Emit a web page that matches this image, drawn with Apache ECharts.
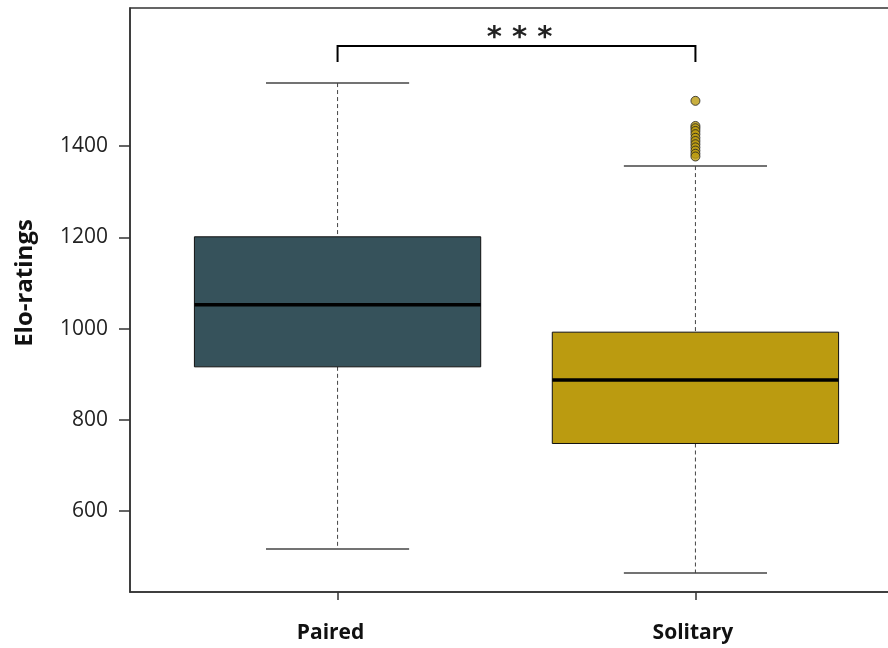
<!DOCTYPE html>
<html>
<head>
<meta charset="utf-8">
<script src="https://cdn.jsdelivr.net/npm/echarts@6/dist/echarts.min.js"></script>
<style>
html,body{margin:0;padding:0;background:#fff;}
#main{width:888px;height:648px;}
</style>
</head>
<body>
<div id="main"></div>
<script>
// ---- data ----
const categories = ['Paired', 'Solitary'];
const categoryPos = [1, 2];
const lowerWhisker = [517, 464];
const q1 = [916, 748];
const median = [1052, 887];
const q3 = [1201, 992];
const upperWhisker = [1538, 1356];
const boxColors = ['#36525B', '#BB9B10'];
const solitaryOutliers = [1499, 1444, 1439, 1433, 1426, 1418, 1411, 1404, 1397, 1390, 1383, 1377];
const yTicks = [600, 800, 1000, 1200, 1400];
const significance = '* * *';
const bracketTop = 1619;
const bracketFoot = 1584;

const boxData = categoryPos.map((x, i) => [x, lowerWhisker[i], q1[i], median[i], q3[i], upperWhisker[i], i]);
const outlierData = solitaryOutliers.map(v => [2, v]);

const chart = echarts.init(document.getElementById('main'));
const FONT = 'Open Sans';

function renderBox(params, api) {
  const x = api.value(0);
  const lo = api.value(1), a = api.value(2), m = api.value(3), b = api.value(4), hi = api.value(5);
  const idx = api.value(6);
  const hw = 0.4, cw = 0.2;
  const pTL = api.coord([x - hw, b]);
  const pBR = api.coord([x + hw, a]);
  const pMedL = api.coord([x - hw, m]);
  const pMedR = api.coord([x + hw, m]);
  const pHi = api.coord([x, hi]);
  const pLo = api.coord([x, lo]);
  const pQ3 = api.coord([x, b]);
  const pQ1 = api.coord([x, a]);
  const capHiL = api.coord([x - cw, hi]), capHiR = api.coord([x + cw, hi]);
  const capLoL = api.coord([x - cw, lo]), capLoR = api.coord([x + cw, lo]);
  return {
    type: 'group',
    children: [
      {type: 'line', shape: {x1: pHi[0], y1: pHi[1], x2: pQ3[0], y2: pQ3[1]},
       style: {stroke: '#444', lineWidth: 1, lineDash: [4, 3]}},
      {type: 'line', shape: {x1: pQ1[0], y1: pQ1[1], x2: pLo[0], y2: pLo[1]},
       style: {stroke: '#444', lineWidth: 1, lineDash: [4, 3]}},
      {type: 'line', shape: {x1: capHiL[0], y1: capHiL[1], x2: capHiR[0], y2: capHiR[1]},
       style: {stroke: '#444', lineWidth: 1.5}},
      {type: 'line', shape: {x1: capLoL[0], y1: capLoL[1], x2: capLoR[0], y2: capLoR[1]},
       style: {stroke: '#444', lineWidth: 1.5}},
      {type: 'rect', shape: {x: pTL[0], y: pTL[1], width: pBR[0] - pTL[0], height: pBR[1] - pTL[1]},
       style: {fill: boxColors[idx], stroke: '#111', lineWidth: 1}},
      {type: 'line', shape: {x1: pMedL[0], y1: pMedL[1], x2: pMedR[0], y2: pMedR[1]},
       style: {stroke: '#000', lineWidth: 3.5}}
    ]
  };
}

function renderBracket(params, api) {
  const x1 = api.value(0), x2 = api.value(1), top = api.value(2), foot = api.value(3);
  const p1 = api.coord([x1, foot]), p2 = api.coord([x1, top]);
  const p3 = api.coord([x2, top]), p4 = api.coord([x2, foot]);
  const mid = api.coord([(x1 + x2) / 2, top]);
  return {
    type: 'group',
    children: [
      {type: 'polyline', shape: {points: [p1, p2, p3, p4]},
       style: {stroke: '#000', lineWidth: 2, fill: null}},
      {type: 'text', x: mid[0] + 3, y: mid[1] + 7,
       style: {text: significance, fontSize: 29, fontWeight: 'bold', fontFamily: 'DejaVu Sans', fill: '#222',
               align: 'center', verticalAlign: 'bottom'}}
    ]
  };
}

chart.setOption({
  animation: false,
  backgroundColor: '#fff',
  grid: {left: 130, top: 8, width: 773, height: 584, outerBoundsMode: 'none', containLabel: false,
         show: true, borderColor: '#333', borderWidth: 1.5},
  xAxis: {
    type: 'value', min: 0.42, max: 2.58,
    splitLine: {show: false},
    axisLine: {show: true, lineStyle: {color: '#333', width: 1.5}},
    axisTick: {show: true, customValues: categoryPos, length: 8, lineStyle: {color: '#333', width: 1.5}},
    axisLabel: {
      customValues: categoryPos, margin: 31,
      formatter: v => {
        const i = Math.round(v) - 1;
        return categories[i] ? '{c' + i + '|' + categories[i] + '}' : '';
      },
      fontFamily: FONT, fontSize: 21, fontWeight: 'bold', color: '#111',
      rich: {
        c0: {fontFamily: FONT, fontSize: 21, fontWeight: 'bold', color: '#111', padding: [0, 14, 0, 0]},
        c1: {fontFamily: FONT, fontSize: 21, fontWeight: 'bold', color: '#111', padding: [0, 5, 0, 0]}
      }
    }
  },
  yAxis: {
    type: 'value', min: 422.5, max: 1702.5,
    splitLine: {show: false},
    axisLine: {show: true, lineStyle: {color: '#333', width: 1.5}},
    axisTick: {show: true, customValues: yTicks, length: 11, lineStyle: {color: '#333', width: 1.5}},
    axisLabel: {customValues: yTicks, margin: 22, formatter: v => String(v),
                fontFamily: FONT, fontSize: 21, color: '#222'}
  },
  graphic: [{
    type: 'text', x: 25, y: 283, rotation: Math.PI / 2,
    style: {text: 'Elo-ratings', fontFamily: FONT, fontSize: 24, fontWeight: 'bold', fill: '#111',
            align: 'center', verticalAlign: 'middle'}
  }],
  series: [
    {type: 'custom', renderItem: renderBox, data: boxData, encode: {x: 0, y: [1, 5]}},
    {type: 'scatter', data: outlierData, symbolSize: 9,
     itemStyle: {color: '#BB9B10', borderColor: '#222', borderWidth: 1}},
    {type: 'custom', renderItem: renderBracket, data: [[1, 2, bracketTop, bracketFoot]], encode: {x: [0, 1], y: [2, 3]}}
  ]
});
</script>
</body>
</html>
